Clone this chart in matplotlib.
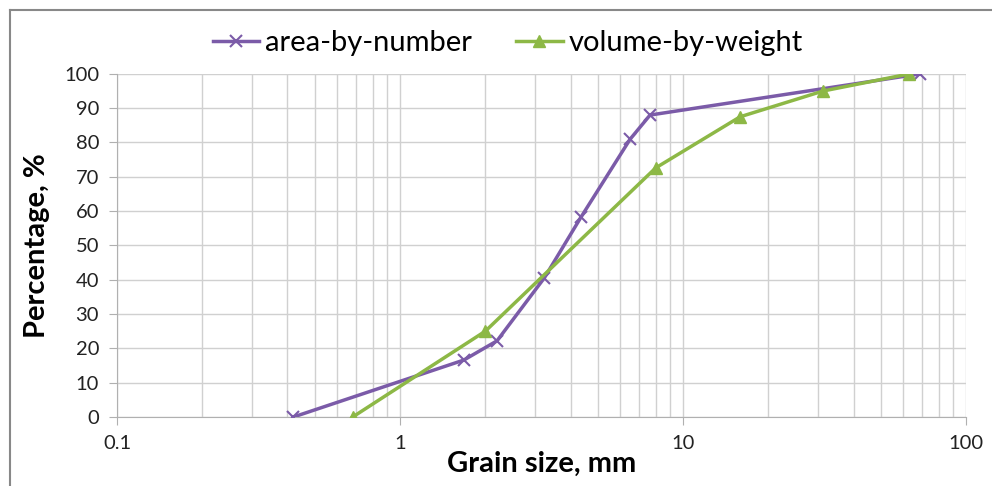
import matplotlib.pyplot as plt
from matplotlib.lines import Line2D
from matplotlib.ticker import FixedLocator, NullFormatter

plt.rcParams['font.family'] = ['Lato', 'DejaVu Sans']

# data
area_x = [0.42, 1.68, 2.2, 3.23, 4.36, 6.5, 7.64, 68.8]
area_y = [0, 16.6, 22.2, 40.5, 58.3, 81, 88, 100]
vol_x = [0.68, 2.0, 8.0, 15.9, 31.2, 63]
vol_y = [0, 25, 72.6, 87.5, 95, 100]
yticks = list(range(0, 101, 10))
xticks = [0.1, 1, 10, 100]
xtick_labels = ['0.1', '1', '10', '100']

purple = '#7b5ba8'
green = '#8db846'
grid_c = '#d0d0d0'

fig = plt.figure(figsize=(9.92, 4.86), dpi=100)
ax = fig.add_axes([0.118, 0.142, 0.856, 0.706])

ax.plot(area_x, area_y, color=purple, lw=2.5, marker='x', ms=9, mew=1.5,
        label='area-by-number', zorder=3)
ax.plot(vol_x, vol_y, color=green, lw=2.5, marker='^', ms=9,
        label='volume-by-weight', zorder=3)

ax.set_xscale('log')
ax.set_xlim(0.1, 100)
ax.set_ylim(0, 100)
ax.set_xticks(xticks)
ax.set_xticklabels(xtick_labels)
minors = [m * 10.0 ** e for e in (-1, 0, 1) for m in range(2, 10)]
ax.xaxis.set_minor_locator(FixedLocator(minors))
ax.xaxis.set_minor_formatter(NullFormatter())
ax.set_yticks(yticks)

ax.grid(True, which='major', color=grid_c, lw=1)
ax.grid(True, which='minor', axis='x', color=grid_c, lw=1)
ax.set_axisbelow(True)

for s in ['top', 'right']:
    ax.spines[s].set_visible(False)
for s in ['left', 'bottom']:
    ax.spines[s].set_color('#b0b0b0')
ax.tick_params(axis='both', which='major', labelsize=14.5, color='#b0b0b0',
               length=6, pad=7, labelcolor='#222222')
ax.tick_params(axis='x', which='minor', length=0)

ax.set_xlabel('Grain size, mm', fontsize=21, fontweight='bold', labelpad=-1)
ax.set_ylabel('Percentage, %', fontsize=21, fontweight='bold', labelpad=10)

ax.legend(loc='lower center', bbox_to_anchor=(0.46, 0.975), ncol=2, frameon=False,
          fontsize=21, handlelength=1.6, handletextpad=0.2, columnspacing=1.5)

# outer frame (top and left edges visible)
fig.add_artist(Line2D([0.01, 1.0], [0.979, 0.979], color='#888888', lw=1.5,
                      transform=fig.transFigure))
fig.add_artist(Line2D([0.01, 0.01], [0.0, 0.979], color='#888888', lw=1.5,
                      transform=fig.transFigure))

fig.savefig('out.png', dpi=100)
